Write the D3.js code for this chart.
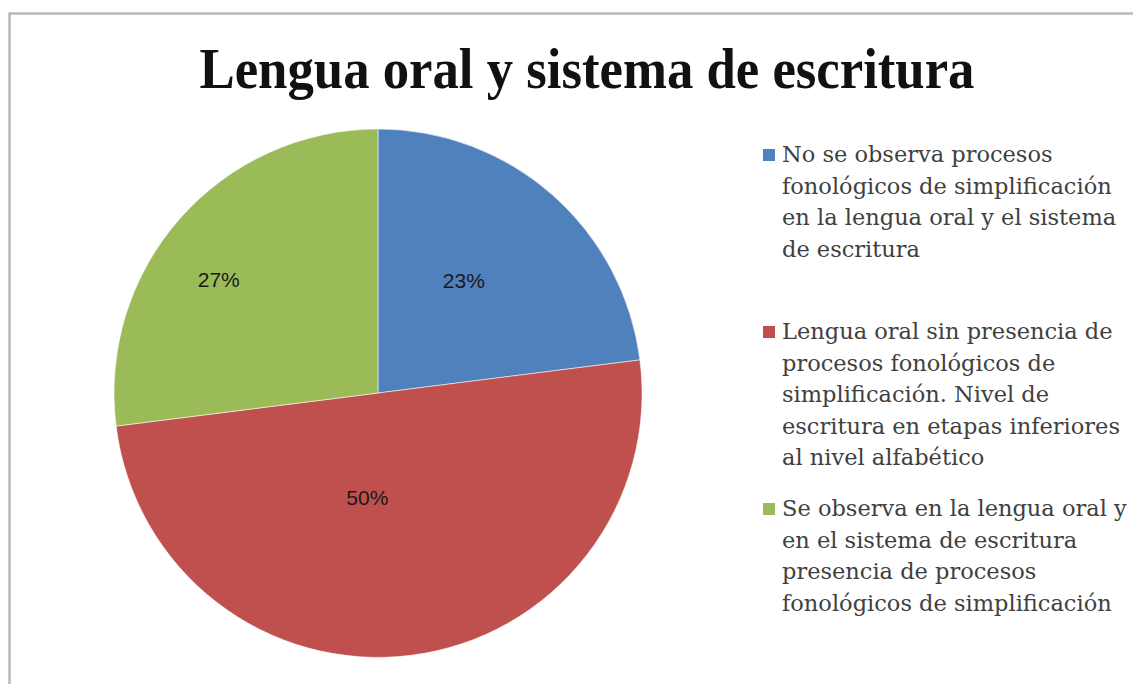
<!DOCTYPE html>
<html>
<head>
<meta charset="utf-8">
<script src="https://cdn.jsdelivr.net/npm/d3@7"></script>
<style>
  html, body { margin: 0; padding: 0; background: #ffffff; }
  svg { display: block; }
</style>
</head>
<body>
<svg id="chart" width="1133" height="684"></svg>
<script>
// Chart data
const title = "Lengua oral y sistema de escritura";
const categories = [
  "No se observa procesos fonológicos de simplificación en la lengua oral y el sistema de escritura",
  "Lengua oral sin presencia de procesos fonológicos de simplificación. Nivel de escritura en etapas inferiores al nivel alfabético",
  "Se observa en la lengua oral y en el sistema de escritura presencia de procesos fonológicos de simplificación"
];
const values = [23, 50, 27];
const legendLines = [
  ["No se observa procesos", "fonológicos de simplificación", "en la lengua oral y el sistema", "de escritura"],
  ["Lengua oral sin presencia de", "procesos fonológicos de", "simplificación. Nivel de", "escritura en etapas inferiores", "al nivel alfabético"],
  ["Se observa en la lengua oral y", "en el sistema de escritura", "presencia de procesos", "fonológicos de simplificación"]
];
const colors = ["#4f81bd", "#c0504d", "#9bbb59"];

// Layout
const W = 1133, H = 684;
const cx = 378, cy = 393, R = 264;
// label placement: fraction of radius and angular nudge (degrees) per slice
const labelRadiusFactor = [0.535, 0.40, 0.74];
const labelAngleShift = [-4, 13, -6];

const svg = d3.select("#chart");

// Chart area frame
svg.append("rect")
  .attr("x", 9.5).attr("y", 13.5)
  .attr("width", W + 20).attr("height", H + 20)
  .attr("fill", "#ffffff")
  .attr("stroke", "#b9b9b9")
  .attr("stroke-width", 2.5);

// Title
svg.append("text")
  .attr("x", 587).attr("y", 88)
  .attr("text-anchor", "middle")
  .attr("font-family", "'Liberation Serif', serif")
  .attr("font-weight", "bold")
  .attr("font-size", 57)
  .attr("fill", "#111")
  .attr("textLength", 775)
  .attr("lengthAdjust", "spacingAndGlyphs")
  .text(title);

// Pie
const color = d3.scaleOrdinal().domain(categories).range(colors);
const pie = d3.pie().sort(null).value(d => d.value);
const data = categories.map((c, i) => ({ category: c, value: values[i], index: i }));
const arcs = pie(data);
const arc = d3.arc().innerRadius(0).outerRadius(R);

const g = svg.append("g").attr("transform", `translate(${cx},${cy})`);

g.selectAll("path.slice")
  .data(arcs)
  .join("path")
  .attr("class", "slice")
  .attr("d", arc)
  .attr("fill", d => color(d.data.category))
  .attr("stroke", "#ffffff")
  .attr("stroke-opacity", 0.55)
  .attr("stroke-width", 1);

// Percentage labels
g.selectAll("text.pct")
  .data(arcs)
  .join("text")
  .attr("class", "pct")
  .attr("transform", d => {
    const r = R * labelRadiusFactor[d.index];
    const a = (d.startAngle + d.endAngle) / 2 + labelAngleShift[d.index] * Math.PI / 180;
    return `translate(${Math.sin(a) * r},${-Math.cos(a) * r})`;
  })
  .attr("text-anchor", "middle")
  .attr("dy", "0.35em")
  .attr("font-family", "'Liberation Sans', Arial, sans-serif")
  .attr("font-size", 21)
  .attr("fill", "#1a1a1a")
  .text(d => d.data.value + "%");

// Legend
const legendX = 763, legendTop = 155, slot = 177, lineH = 31.5;
const legendTextWidth = 330; // width of the longest legend line
const legend = svg.append("g");
const items = legend.selectAll("g.item")
  .data(data)
  .join("g")
  .attr("class", "item")
  .attr("transform", (d, i) => `translate(${legendX},${legendTop + i * slot})`);

items.append("rect")
  .attr("x", 0).attr("y", -6)
  .attr("width", 12).attr("height", 12)
  .attr("fill", d => color(d.category));

const legendTexts = items.append("text")
  .attr("x", 19)
  .attr("y", 0)
  .attr("font-family", "'DejaVu Serif', serif")
  .attr("font-size", 20)
  .attr("fill", "#404040");

legendTexts.selectAll("tspan")
  .data((d, i) => legendLines[i])
  .join("tspan")
  .attr("x", 19)
  .attr("y", (d, j) => j * lineH)
  .attr("dy", "0.33em")
  .text(d => d);

// size the legend font so the longest line spans the legend width
const probe = svg.append("text")
  .attr("font-family", "'DejaVu Serif', serif")
  .attr("font-size", 20)
  .text(legendLines[0][1]);
const measured = probe.node().getComputedTextLength();
probe.remove();
legendTexts.attr("font-size", 20 * legendTextWidth / measured);
</script>
</body>
</html>
